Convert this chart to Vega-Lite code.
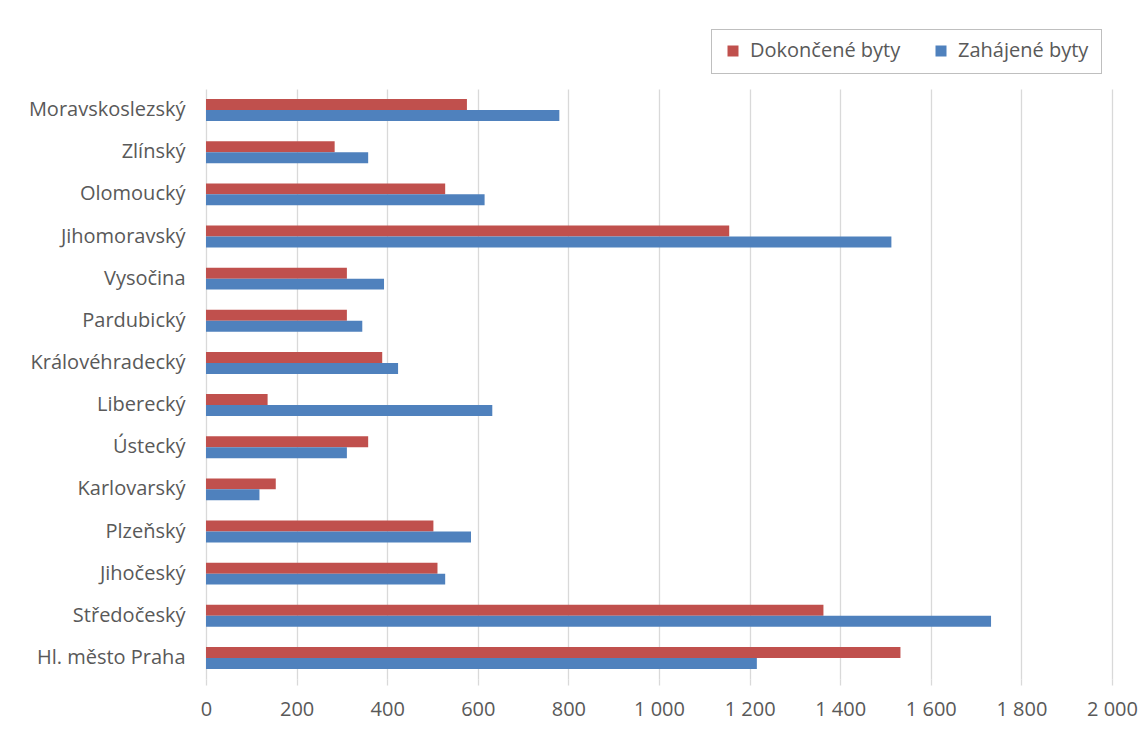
{
  "$schema": "https://vega.github.io/schema/vega-lite/v6.json",
  "width": 906,
  "height": 590,
  "autosize": {"type": "none"},
  "padding": {"left": 206, "top": 89, "right": 31, "bottom": 63},
  "background": "white",
  "data": {
    "values": [
      {"kraj": "Moravskoslezský", "rada": "Dokončené byty", "byty": 576},
      {"kraj": "Moravskoslezský", "rada": "Zahájené byty", "byty": 780},
      {"kraj": "Zlínský", "rada": "Dokončené byty", "byty": 284},
      {"kraj": "Zlínský", "rada": "Zahájené byty", "byty": 358},
      {"kraj": "Olomoucký", "rada": "Dokončené byty", "byty": 528},
      {"kraj": "Olomoucký", "rada": "Zahájené byty", "byty": 615},
      {"kraj": "Jihomoravský", "rada": "Dokončené byty", "byty": 1155},
      {"kraj": "Jihomoravský", "rada": "Zahájené byty", "byty": 1513},
      {"kraj": "Vysočina", "rada": "Dokončené byty", "byty": 311},
      {"kraj": "Vysočina", "rada": "Zahájené byty", "byty": 393},
      {"kraj": "Pardubický", "rada": "Dokončené byty", "byty": 311},
      {"kraj": "Pardubický", "rada": "Zahájené byty", "byty": 345},
      {"kraj": "Královéhradecký", "rada": "Dokončené byty", "byty": 389},
      {"kraj": "Královéhradecký", "rada": "Zahájené byty", "byty": 424},
      {"kraj": "Liberecký", "rada": "Dokončené byty", "byty": 136},
      {"kraj": "Liberecký", "rada": "Zahájené byty", "byty": 632},
      {"kraj": "Ústecký", "rada": "Dokončené byty", "byty": 358},
      {"kraj": "Ústecký", "rada": "Zahájené byty", "byty": 311},
      {"kraj": "Karlovarský", "rada": "Dokončené byty", "byty": 154},
      {"kraj": "Karlovarský", "rada": "Zahájené byty", "byty": 118},
      {"kraj": "Plzeňský", "rada": "Dokončené byty", "byty": 502},
      {"kraj": "Plzeňský", "rada": "Zahájené byty", "byty": 585},
      {"kraj": "Jihočeský", "rada": "Dokončené byty", "byty": 511},
      {"kraj": "Jihočeský", "rada": "Zahájené byty", "byty": 528},
      {"kraj": "Středočeský", "rada": "Dokončené byty", "byty": 1363},
      {"kraj": "Středočeský", "rada": "Zahájené byty", "byty": 1733},
      {"kraj": "Hl. město Praha", "rada": "Dokončené byty", "byty": 1533},
      {"kraj": "Hl. město Praha", "rada": "Zahájené byty", "byty": 1216}
    ]
  },
  "mark": {"type": "bar"},
  "encoding": {
    "y": {
      "field": "kraj",
      "type": "nominal",
      "sort": ["Moravskoslezský", "Zlínský", "Olomoucký", "Jihomoravský", "Vysočina", "Pardubický", "Královéhradecký", "Liberecký", "Ústecký", "Karlovarský", "Plzeňský", "Jihočeský", "Středočeský", "Hl. město Praha"],
      "scale": {"paddingInner": 0.48, "paddingOuter": 0.24},
      "axis": {
        "title": null,
        "domain": false,
        "ticks": false,
        "labelPadding": 21,
        "labelFontSize": 20,
        "labelColor": "#595959",
        "labelFont": "Open Sans"
      }
    },
    "yOffset": {
      "field": "rada",
      "type": "nominal",
      "sort": ["Dokončené byty", "Zahájené byty"]
    },
    "x": {
      "field": "byty",
      "type": "quantitative",
      "scale": {"domain": [0, 2000], "nice": false},
      "axis": {
        "title": null,
        "values": [0, 200, 400, 600, 800, 1000, 1200, 1400, 1600, 1800, 2000],
        "labelExpr": "replace(format(datum.value, ','), ',', ' ')",
        "labelFlush": false,
        "labelOverlap": false,
        "domain": false,
        "ticks": true,
        "tickSize": 6,
        "tickColor": "#d9d9d9",
        "tickWidth": 1.3,
        "grid": true,
        "gridColor": "#d9d9d9",
        "gridWidth": 1.3,
        "labelPadding": 14,
        "labelFontSize": 20,
        "labelColor": "#595959",
        "labelFont": "Open Sans"
      }
    },
    "color": {
      "field": "rada",
      "type": "nominal",
      "scale": {"domain": ["Dokončené byty", "Zahájené byty"], "range": ["#C0504D", "#4F81BD"]},
      "legend": {
        "title": null,
        "orient": "none",
        "direction": "horizontal",
        "legendX": 505,
        "legendY": -60,
        "symbolType": "square",
        "symbolSize": 121,
        "symbolStrokeWidth": 0,
        "labelOffset": 7,
        "labelFontSize": 20,
        "labelColor": "#595959",
        "labelFont": "Open Sans",
        "columnPadding": 30,
        "padding": 12,
        "strokeColor": "#7f7f7f",
        "fillColor": "white",
        "encode": {"legend": {"update": {"strokeDash": {"value": [1, 1]}}}}
      }
    }
  },
  "config": {"view": {"stroke": null}}
}
